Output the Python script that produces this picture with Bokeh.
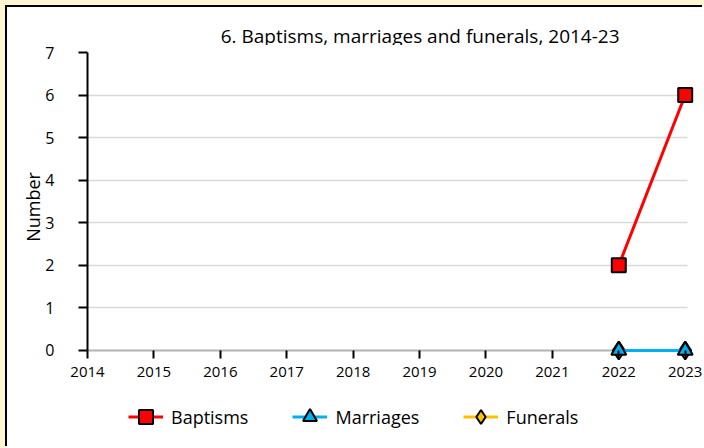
from bokeh.plotting import figure
from bokeh.layouts import column
from bokeh.models import Legend, LegendItem, Range1d, FixedTicker, BoxAnnotation, Label
from bokeh.embed import file_html
from bokeh.resources import INLINE

title_text = "6. Baptisms, marriages and funerals, 2014-23"
years = [2014, 2015, 2016, 2017, 2018, 2019, 2020, 2021, 2022, 2023]
nan = float("nan")
baptisms = [nan, nan, nan, nan, nan, nan, nan, nan, 2, 6]
marriages = [nan, nan, nan, nan, nan, nan, nan, nan, 0, 0]
funerals = [nan, nan, nan, nan, nan, nan, nan, nan, 0, 0]
y_ticks = [0, 1, 2, 3, 4, 5, 6, 7]
series_names = ["Baptisms", "Marriages", "Funerals"]

FONT = "Open Sans"
RED, BLUE, GOLD = "#FF0000", "#00B0F0", "#FFC000"

W = 697
HT = 38          # title strip
H1 = 352         # chart
H2 = 441 - HT - H1  # legend strip


def strip(height):
    f = figure(width=W, height=height, output_backend="svg", toolbar_location=None,
               x_range=Range1d(0, 1), y_range=Range1d(0, 1),
               min_border=0, background_fill_color="white", border_fill_color="white")
    f.outline_line_color = None
    f.xaxis.visible = False
    f.yaxis.visible = False
    f.grid.visible = False
    f.title.visible = False
    return f


# title strip
tf = strip(HT)
tf.add_layout(Label(x=153 / W, y=1 - 28 / HT, text=title_text, text_align="left",
                    text_baseline="alphabetic", text_font=FONT,
                    text_font_size="19px", text_color="black"))

# main chart
p = figure(width=W, height=H1, output_backend="svg", toolbar_location=None,
           x_range=Range1d(2014, 2023.14), y_range=Range1d(-0.2584, 7),
           min_border_left=80, min_border_right=10, min_border_top=7, min_border_bottom=36,
           background_fill_color="white", border_fill_color="white")
p.outline_line_color = None
p.title.visible = False

p.xgrid.visible = False
p.ygrid.grid_line_color = "#D9D9D9"
p.ygrid.grid_line_width = 1.5
p.ygrid.ticker = FixedTicker(ticks=y_ticks[1:])
p.ygrid.cross_bounds = (2014, 2023.03)

ya = p.yaxis[0]
ya.ticker = FixedTicker(ticks=y_ticks)
ya.bounds = (0, 7)
ya.axis_line_color = "black"
ya.axis_line_width = 2
ya.major_tick_line_color = "black"
ya.major_tick_line_width = 2
ya.major_tick_in = 0
ya.major_tick_out = 9
ya.minor_tick_line_color = None
ya.major_label_text_font = FONT
ya.major_label_text_font_size = "16px"
ya.major_label_text_color = "black"
ya.major_label_standoff = 24
ya.axis_label = "Number"
ya.axis_label_text_font = FONT
ya.axis_label_text_font_size = "18px"
ya.axis_label_text_font_style = "normal"
ya.axis_label_text_color = "black"
ya.axis_label_standoff = -3

xa = p.xaxis[0]
xa.ticker = FixedTicker(ticks=years)
xa.axis_line_color = None
xa.major_tick_line_color = "black"
xa.major_tick_line_width = 2
xa.major_tick_in = 11
xa.major_tick_out = -3
xa.minor_tick_line_color = None
xa.major_label_text_font = FONT
xa.major_label_text_font_size = "15px"
xa.major_label_text_color = "black"
xa.major_label_standoff = 5

# x axis baseline at zero, drawn beneath the series
p.add_layout(BoxAnnotation(left=years[0], right=years[-1], bottom=y_ticks[0], top=y_ticks[0],
                           fill_alpha=0, line_color="black", line_width=2, level="underlay"))

styles = [
    dict(line_color=RED, marker="square", size=14, fill_color=RED),
    dict(line_color=BLUE, marker="triangle", size=15, fill_color=BLUE),
    dict(line_color=GOLD, marker="diamond", size=18, fill_color=GOLD),
]
data = [baptisms, marriages, funerals]

# draw funerals first, marriages over them, baptisms on top
for i in (2, 1, 0):
    s = styles[i]
    p.line(years, data[i], line_color=s["line_color"], line_width=3)
    p.scatter(years, data[i], marker=s["marker"], size=s["size"], fill_color=s["fill_color"],
              line_color="black", line_width=2)

# legend strip below the chart
lf = strip(H2)
items = []
for i, name in enumerate(series_names):
    s = styles[i]
    r1 = lf.line([nan], [nan], line_color=s["line_color"], line_width=3)
    r2 = lf.scatter([nan], [nan], marker=s["marker"], size=s["size"], fill_color=s["fill_color"],
                    line_color="black", line_width=2)
    items.append(LegendItem(label=name, renderers=[r1, r2]))
legend = Legend(items=items, orientation="horizontal", location=(41, 14))
legend.border_line_color = None
legend.background_fill_alpha = 0
legend.label_text_font = FONT
legend.label_text_font_size = "18px"
legend.label_text_color = "black"
legend.glyph_width = 35
legend.glyph_height = 35
legend.label_standoff = 8
legend.spacing = 44
legend.padding = 5
legend.margin = 0
lf.add_layout(legend, "center")

layout = column(tf, p, lf, spacing=0)
layout.styles = {"box-shadow": "-2px -2px 0 0 black", "background-color": "white"}

html = file_html(layout, INLINE)
html = html.replace("</head>", "<style>html,body{margin:0;padding:0;overflow:hidden;background:#FFF7D1;} body{padding:7px 0 0 7px;}</style></head>", 1)
open("out.html", "w").write(html)
